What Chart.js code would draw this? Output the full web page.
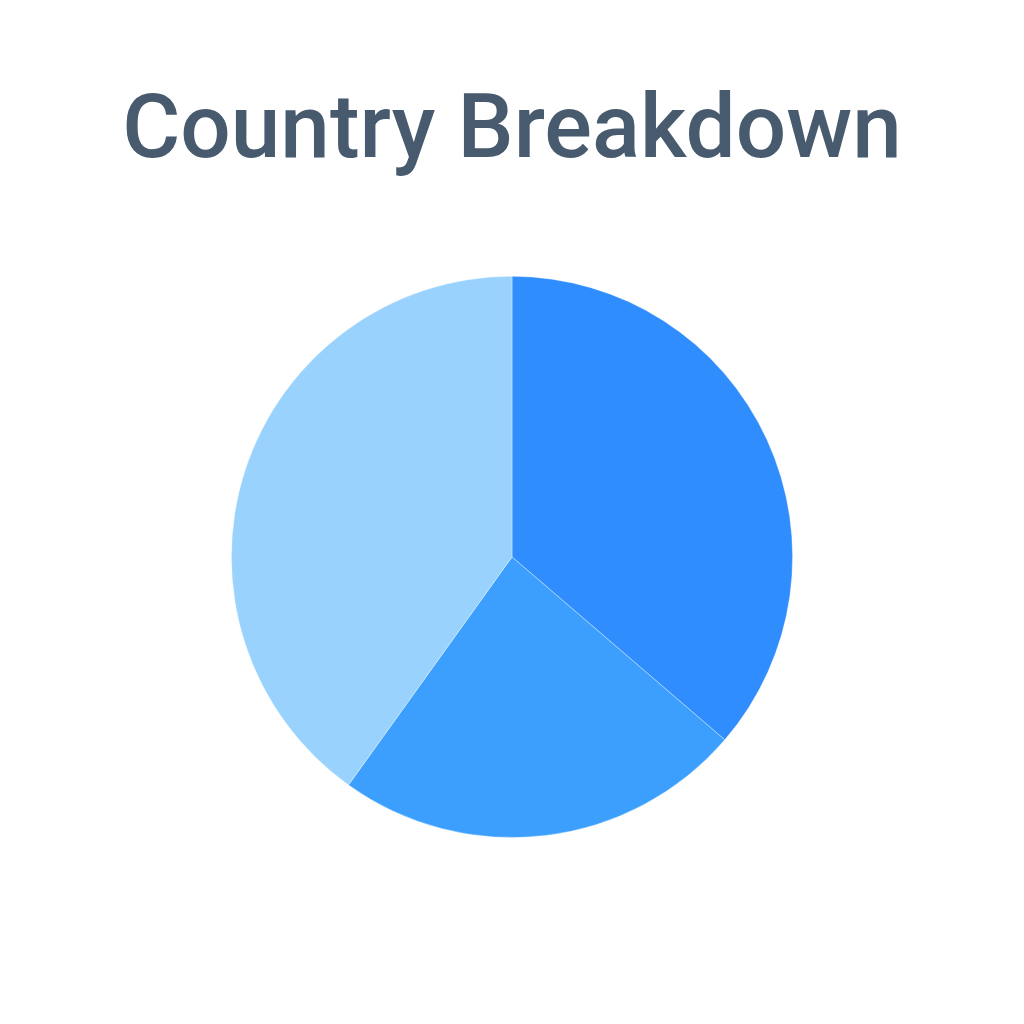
<!DOCTYPE html>
<html>
<head>
<meta charset="utf-8">
<script src="https://cdn.jsdelivr.net/npm/chart.js@4"></script>
<style>
  html, body { margin: 0; padding: 0; background: #fff; }
  #wrap { width: 1024px; height: 1024px; }
</style>
</head>
<body>
<div id="wrap"><canvas id="countryChart"></canvas></div>
<script>
// values (share in %)
var countries = ["United States", "United Kingdom", "Canada"];
var shares = [36.3, 23.6, 40.1];
var sliceColors = ['#2F8DFD', '#3D9FFD', '#98D2FD'];

var ctx = document.getElementById("countryChart").getContext('2d');
var countryChart = new Chart(ctx, {
    type: 'pie',
    data: {
        labels: countries,
        datasets: [
            {
                label: "Share",
                data: shares,
                backgroundColor: sliceColors,
                borderColor: 'rgba(255, 255, 255, 0.35)',
                borderWidth: 1
            }
        ]
    },
    options: {
        responsive: true,
        maintainAspectRatio: false,
        animation: false,
        layout: {
            padding: { top: 0, bottom: 186, left: 0, right: 0 }
        },
        plugins: {
            legend: { display: false },
            tooltip: { enabled: false },
            title: {
                display: true,
                text: 'Country Breakdown',
                color: '#475A6E',
                font: { family: 'Roboto, Arial, sans-serif', size: 89, weight: '500' },
                padding: { top: 81, bottom: 88 }
            }
        }
    }
});
</script>
</body>
</html>
